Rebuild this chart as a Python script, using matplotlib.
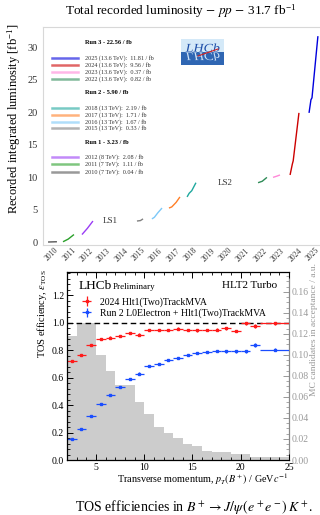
import matplotlib
matplotlib.use('Agg')
import matplotlib.pyplot as plt
import numpy as np
from matplotlib.ticker import MultipleLocator, AutoMinorLocator, FormatStrFormatter
from matplotlib.textpath import TextPath
from matplotlib.patches import PathPatch, Rectangle
from matplotlib.font_manager import FontProperties
from matplotlib.transforms import Affine2D
from matplotlib.lines import Line2D

plt.rcParams['font.family'] = ['Liberation Serif', 'DejaVu Serif']
plt.rcParams['mathtext.fontset'] = 'stix'

# ---------------- top panel data ----------------
years = [2010, 2011, 2012, 2015, 2016, 2017, 2018, 2022, 2023, 2024, 2025]
energies = ['7', '7', '8', '13', '13', '13', '13', '13.6', '13.6', '13.6', '13.6']
year_lumi = ['0.04', '1.11', '2.08', '0.33', '1.67', '1.71', '2.19', '0.82', '0.37', '9.56', '11.81']
run_names = ['Run 1', 'Run 2', 'Run 3']
run_lumi = ['3.23', '5.90', '22.56']
run_years = [[2012, 2011, 2010], [2018, 2017, 2016, 2015], [2025, 2024, 2023, 2022]]
total_lumi = '31.7'
# sampled cumulative luminosity curves (time in fractional years, lumi in fb^-1)
curve_t = [
    [2010.29, 2010.80],
    [2011.15, 2011.45, 2011.78],
    [2012.24, 2012.55, 2012.87],
    [2015.40, 2015.60, 2015.75],
    [2016.26, 2016.40, 2016.60, 2016.84],
    [2017.24, 2017.40, 2017.65, 2017.87],
    [2018.28, 2018.40, 2018.55, 2018.79],
    [2022.36, 2022.60, 2022.87],
    [2023.22, 2023.45, 2023.62],
    [2024.20, 2024.33, 2024.38, 2024.71],
    [2025.29, 2025.40, 2025.46, 2025.80],
]
curve_L = [
    [0.0, 0.04],
    [0.04, 0.45, 1.15],
    [1.15, 2.10, 3.23],
    [3.23, 3.30, 3.56],
    [3.56, 3.80, 4.50, 5.23],
    [5.23, 5.40, 6.10, 6.94],
    [6.94, 7.50, 7.90, 9.13],
    [9.13, 9.35, 9.95],
    [9.95, 10.15, 10.32],
    [10.32, 12.00, 12.50, 19.88],
    [19.88, 21.90, 22.20, 31.69],
]
line_colors = ['#555555', '#2aa02a', '#9a3cf5', '#808080', '#7cc8f8', '#ff7f27',
               '#1fa89e', '#2e8b57', '#ff88d8', '#cc0000', '#0000dd']
shutdowns = ['LS1', 'LS2']
shutdown_t = [2013.85, 2020.46]
shutdown_L = [3.2, 9.1]

# ---------------- bottom panel data ----------------
pt_edges = [2, 3, 4, 5, 6, 7, 8, 9, 10, 11, 12, 13, 14, 15, 16, 17, 18, 19, 20, 21, 22, 25]
eff_2024 = [0.724, 0.766, 0.838, 0.879, 0.892, 0.905, 0.928, 0.914, 0.948, 0.947, 0.945,
            0.958, 0.950, 0.944, 0.950, 0.950, 0.960, 0.940, 0.996, 0.975, 0.995]
err_2024 = [0.008, 0.008, 0.008, 0.008, 0.008, 0.008, 0.008, 0.008, 0.008, 0.008, 0.008,
            0.008, 0.008, 0.008, 0.008, 0.010, 0.010, 0.010, 0.010, 0.015, 0.008]
eff_run2 = [0.151, 0.224, 0.322, 0.410, 0.475, 0.534, 0.590, 0.630, 0.686, 0.699, 0.726,
            0.744, 0.768, 0.780, 0.787, 0.795, 0.792, 0.792, 0.792, 0.836, 0.805]
err_run2 = [0.008, 0.008, 0.008, 0.008, 0.008, 0.008, 0.008, 0.008, 0.008, 0.008, 0.008,
            0.008, 0.008, 0.010, 0.010, 0.010, 0.010, 0.010, 0.010, 0.015, 0.010]
hist_edges = [2, 3, 4, 5, 6, 7, 8, 9, 10, 11, 12, 13, 14, 15, 16, 17, 19, 21, 25]
hist_vals = [0.118, 0.130, 0.130, 0.100, 0.085, 0.071, 0.071, 0.055, 0.044, 0.031, 0.026,
             0.021, 0.015, 0.013, 0.0086, 0.0076, 0.0057, 0.003]
label_2024 = '2024 Hlt1(Two)TrackMVA'
label_run2 = 'Run 2 L0Electron + Hlt1(Two)TrackMVA'

W, H = 320, 515
fig = plt.figure(figsize=(W / 100, H / 100), dpi=100)

def fx(px):
    return px / W

def fy(py):
    return 1 - py / H

# ================= top panel =================
ax = fig.add_axes([fx(43), fy(245), fx(320 - 43), (245 - 27) / H])
for t, L, c in zip(curve_t, curve_L, line_colors):
    ax.plot(t, L, color=c, lw=1.0, solid_capstyle='butt')
for s, t, L in zip(shutdowns, shutdown_t, shutdown_L):
    ax.text(t, L, s, ha='center', va='center', fontsize=6.5, color='#333333')
ax.set_xlim(2010, 2025.92)
ax.set_ylim(-0.46, 33.1)
tick_years = list(range(2010, 2026))
ax.set_xticks([y + 0.5 for y in tick_years])
ax.set_xticklabels([str(y) for y in tick_years], rotation=45, ha='center', fontsize=5.5, color='#333333')
ax.set_yticks([0, 5, 10, 15, 20, 25, 30])
ax.tick_params(axis='both', length=0, colors='#333333')
ax.tick_params(axis='y', labelsize=7.5, pad=4)
ax.tick_params(axis='x', pad=1)
for sp in ['top', 'left', 'bottom']:
    ax.spines[sp].set_color('#d8d8d8')
    ax.spines[sp].set_linewidth(0.8)
ax.spines['right'].set_visible(False)

# legend blocks (manual)
def yf(py):
    return (245 - py) / 218

col_of = dict(zip(years, line_colors))
en_of = dict(zip(years, energies))
lum_of = dict(zip(years, year_lumi))
header_y = [143, 93, 43]
entry_y = [[157, 164, 172], [108, 115, 122, 128], [58, 65, 72, 79]]
for rn, rl, ry, hy, eys in zip(run_names, run_lumi, run_years, header_y, entry_y):
    ax.text(0.152, yf(hy), f'{rn} - {rl} / fb', transform=ax.transAxes, fontsize=4.6,
            fontweight='bold', va='center', ha='left')
    for yr, ey in zip(ry, eys):
        ax.add_line(Line2D([0.0325, 0.126], [yf(ey), yf(ey)], transform=ax.transAxes,
                           color=col_of[yr], alpha=0.6, lw=1.8))
        ax.text(0.152, yf(ey), f'{yr} ({en_of[yr]} TeV):  {lum_of[yr]} / fb',
                transform=ax.transAxes, fontsize=4.4, va='center', ha='left', color='#333333')

fig.text(fx(181), fy(12), f'Total recorded luminosity $-$ $pp$ $-$ {total_lumi} fb$^{{\\mathregular{{-1}}}}$',
         ha='center', va='center', fontsize=9.5)
fig.text(fx(15), fy(119), 'Recorded integrated luminosity [fb$^{\\mathregular{-1}}$]',
         ha='center', va='center', rotation=90, fontsize=9)

# LHCb logo
lax = fig.add_axes([fx(181), fy(65), fx(43), 26 / H])
lax.set_xlim(0, 43)
lax.set_ylim(0, 26)
lax.axis('off')
lax.add_patch(Rectangle((0, 13), 43, 13, color='#d4e9f8', lw=0))
lax.add_patch(Rectangle((0, 0), 43, 13, color='#2f66b3', lw=0))
fp = FontProperties(family='Liberation Serif', style='italic')
tp = TextPath((0, 0), 'LHCb', size=10, prop=fp)
bb = tp.get_extents()
sx = 34 / bb.width
tr_up = Affine2D().translate(-bb.x0, 0).scale(sx, sx * 0.85).translate(4.5, 13.3)
tr_dn = Affine2D().translate(-bb.x0, 0).scale(sx, -sx * 0.85).translate(4.5, 12.7)
lax.add_patch(PathPatch(tr_up.transform_path(tp), color='#1f4fa8', lw=0))
p2 = PathPatch(tr_dn.transform_path(tp), color='#cfe2f6', lw=0)
lax.add_patch(p2)
lax.plot([17, 37], [9, 16], color='#d02020', lw=0.8)

# ================= bottom panel =================
ax2 = fig.add_axes([fx(67), fy(460), fx(222), 188 / H])
axh = ax2.twinx()
axh.bar(hist_edges[:-1], hist_vals, width=np.diff(hist_edges), align='edge',
        color='#cccccc', lw=0)
axh.set_ylim(0, 0.179)
ax2.set_zorder(axh.get_zorder() + 1)
ax2.patch.set_visible(False)

edges = np.array(pt_edges, dtype=float)
centers = 0.5 * (edges[:-1] + edges[1:])
halfw = 0.5 * np.diff(edges)
ax2.axhline(1.0, color='black', ls=(0, (4, 2.5)), lw=1.0)
h1 = ax2.errorbar(centers, eff_2024, xerr=halfw, yerr=err_2024, fmt='s', ms=1.6,
                  color='#ff1a1a', elinewidth=0.9, capsize=0)
h2 = ax2.errorbar(centers, eff_run2, xerr=halfw, yerr=err_run2, fmt='s', ms=1.6,
                  color='#1a4dff', elinewidth=0.9, capsize=0)
ax2.set_xlim(2, 25)
ax2.set_ylim(0, 1.37)
ax2.xaxis.set_major_locator(MultipleLocator(5))
ax2.xaxis.set_minor_locator(MultipleLocator(1))
ax2.yaxis.set_major_locator(MultipleLocator(0.2))
ax2.yaxis.set_minor_locator(AutoMinorLocator(5))
ax2.yaxis.set_major_formatter(FormatStrFormatter('%.1f'))
ax2.tick_params(which='both', direction='in', top=True, right=False, labelsize=7, pad=2)
ax2.tick_params(which='major', length=4, width=0.7)
ax2.tick_params(which='minor', length=2, width=0.6)
for sp in ['left', 'top', 'bottom']:
    ax2.spines[sp].set_linewidth(0.9)
ax2.spines['right'].set_visible(False)

axh.yaxis.set_major_locator(MultipleLocator(0.02))
axh.yaxis.set_minor_locator(AutoMinorLocator(4))
axh.yaxis.set_major_formatter(FormatStrFormatter('%.2f'))
axh.tick_params(which='both', direction='in', colors='#999999', labelsize=7, pad=2)
axh.tick_params(which='major', length=4, width=0.7)
axh.tick_params(which='minor', length=2, width=0.6)
for sp in ['left', 'top', 'bottom']:
    axh.spines[sp].set_visible(False)
axh.spines['right'].set_color('#888888')
axh.spines['right'].set_linewidth(0.9)

ax2.text(0.054, 0.926, 'LHCb', transform=ax2.transAxes, fontsize=9.5, va='center', ha='left')
ax2.text(0.205, 0.918, 'Preliminary', transform=ax2.transAxes, fontsize=6.5, va='center', ha='left')
ax2.text(0.946, 0.926, 'HLT2 Turbo', transform=ax2.transAxes, fontsize=8, va='center', ha='right')
ax2.legend([h1, h2], [label_2024, label_run2], loc='upper left', bbox_to_anchor=(0.055, 0.865),
           frameon=False, fontsize=7, handlelength=1.5, handletextpad=0.6,
           labelspacing=0.15, borderpad=0, borderaxespad=0)

fig.text(fx(42), fy(314), 'TOS efficiency, $\\varepsilon_{\\mathregular{TOS}}$', rotation=90,
         ha='center', va='center', fontsize=7.5)
fig.text(fx(314), fy(330), 'MC candidates in acceptance / a.u.', rotation=90,
         ha='center', va='center', fontsize=6.8, color='#999999')
fig.text(fx(288), fy(479), 'Transverse momentum, $p_T(B^+)$ / GeV$c^{-1}$', ha='right',
         va='center', fontsize=7.3)
fig.text(fx(194), fy(507), 'TOS efficiencies in $B^+ \\to J/\\psi\\,(e^+e^-)\\,K^+$.',
         ha='center', va='center', fontsize=10)

fig.savefig('out.png', dpi=100)
